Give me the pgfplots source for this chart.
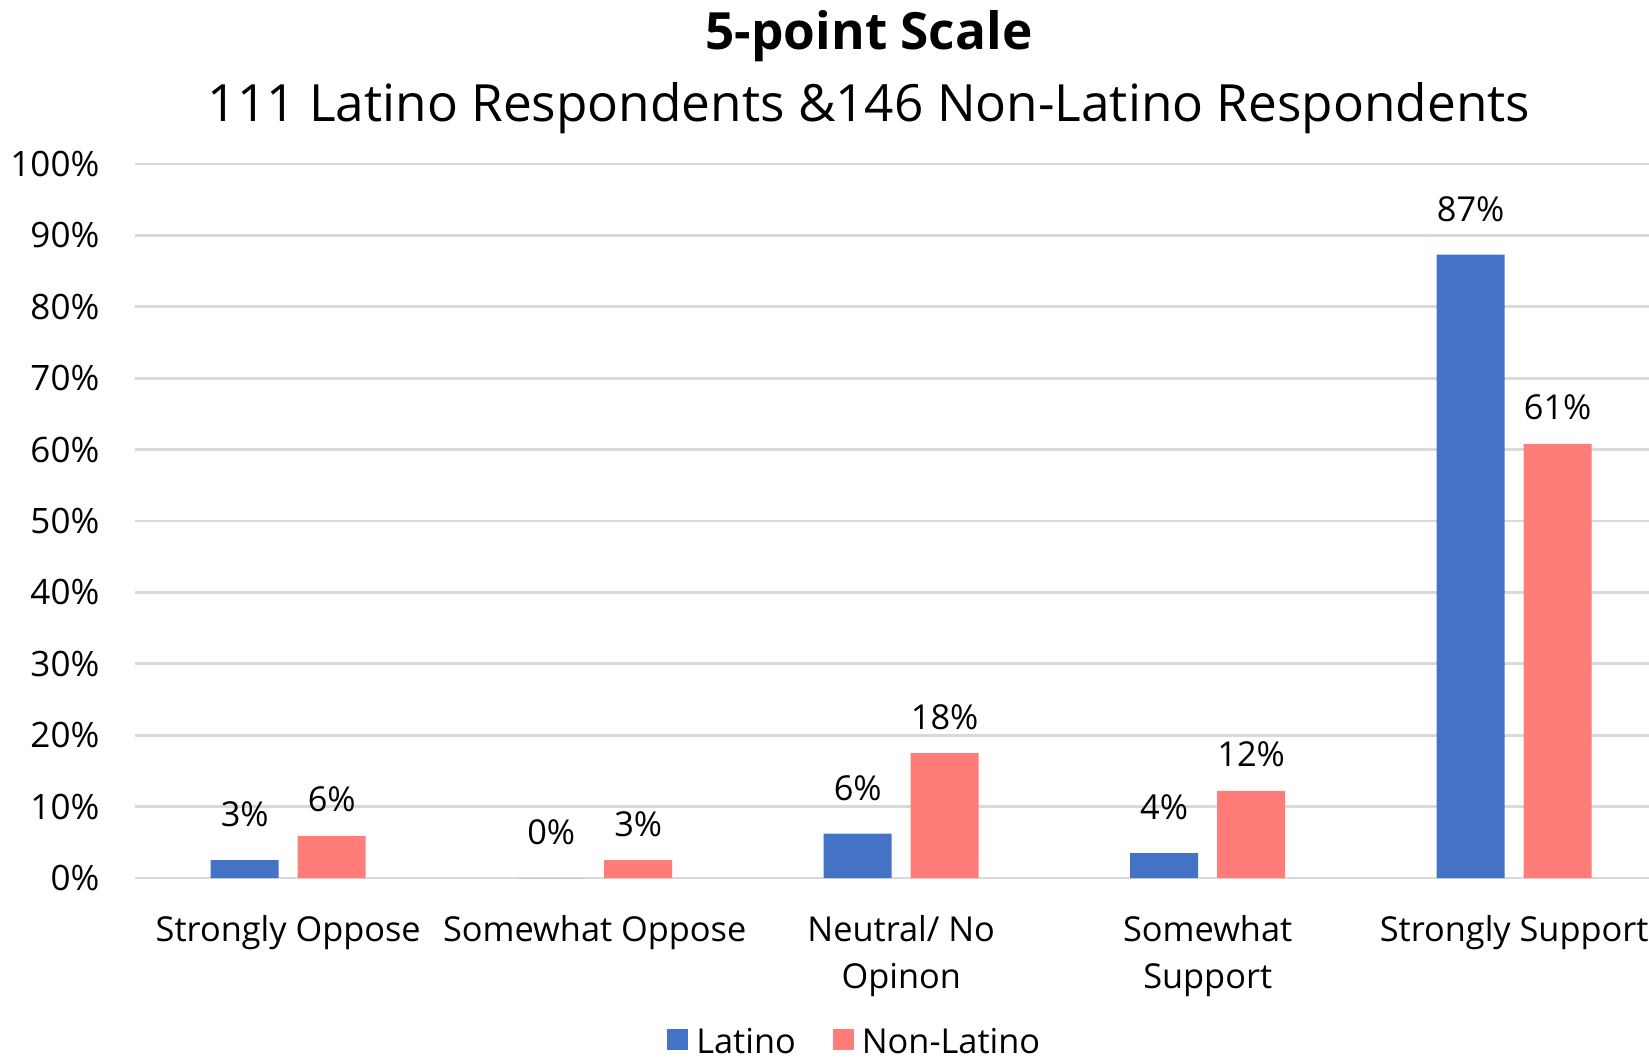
\documentclass[border=0pt]{standalone}
\usepackage{pgfplots}
\pgfplotsset{compat=1.18}
\usepackage{fontspec}
\setmainfont{Open Sans}
\definecolor{latblue}{HTML}{4472C4}
\definecolor{nonlat}{HTML}{FF7C78}
\definecolor{gridgray}{HTML}{D9D9D9}
\begin{document}
\begin{tikzpicture}[x=1pt,y=1pt]
\begin{axis}[
  at={(40.5pt,54.9pt)}, anchor=south west, scale only axis,
  width=454.2pt, height=214.2pt,
  xmin=-0.5, xmax=4.44, ymin=0, ymax=100,
  axis line style={draw=none},
  major tick style={draw=none},
  ytick={0,10,...,100},
  yticklabel={\pgfmathprintnumber{\tick}\%},
  /pgf/number format/assume math mode=true,
  yticklabel style={anchor=east, inner sep=0pt, xshift=-10.5pt, font=\fontsize{10.5}{12}\selectfont},
  ymajorgrids, grid style={draw=gridgray, line width=0.8pt},
  xtick={0,1,2,3,4},
  xticklabels={Strongly Oppose, Somewhat Oppose, {Neutral/ No\\Opinon}, {Somewhat\\Support}, Strongly Support},
  xticklabel style={align=center, anchor=north, inner sep=0pt, yshift=-6.8pt, font=\fontsize{10.3}{14}\selectfont},
  ybar=5.7pt, bar width=20.4pt,
  nodes near coords, point meta=explicit symbolic,
  every node near coord/.append style={font=\fontsize{10.3}{12}\selectfont, anchor=base, inner sep=0pt, text=black},
  clip=false,
  legend columns=2,
  legend style={at={(0.4746,0)}, anchor=north, yshift=-45pt, draw=none, fill=none, inner sep=0pt,
    font=\fontsize{10.3}{12}\selectfont, nodes={inner sep=0pt},
    /tikz/every odd column/.append style={column sep=2.5pt},
    /tikz/every even column/.append style={column sep=11pt}},
]
\addplot[fill=latblue, draw=none, every node near coord/.append style={yshift=10pt},
  legend image code/.code={\fill[latblue] (0pt,-1.9pt) rectangle (6.3pt,4.4pt);}]
  coordinates {(0,2.5) [3\%] (1,0) [0\%] (2,6.2) [6\%] (3,3.5) [4\%] (4,87.3) [87\%]};
\addlegendentry{Latino}
\addplot[fill=nonlat, draw=none, every node near coord/.append style={yshift=7.2pt},
  legend image code/.code={\fill[nonlat] (0pt,-1.9pt) rectangle (6.3pt,4.4pt);}]
  coordinates {(0,5.9) [6\%] (1,2.5) [3\%] (2,17.5) [18\%] (3,12.2) [12\%] (4,60.8) [61\%]};
\addlegendentry{Non-Latino}
\end{axis}
\node[anchor=base, font=\fontsize{15.4}{18}\selectfont\bfseries] at (260.7pt,303.3pt) {5-point Scale};
\node[anchor=base, font=\fontsize{15.4}{18}\selectfont] at (260.7pt,281.8pt) {111 Latino Respondents \&146 Non-Latino Respondents};
\pgfresetboundingbox
\useasboundingbox (0,0) rectangle (494.7pt,318.3pt);
\end{tikzpicture}
\end{document}
